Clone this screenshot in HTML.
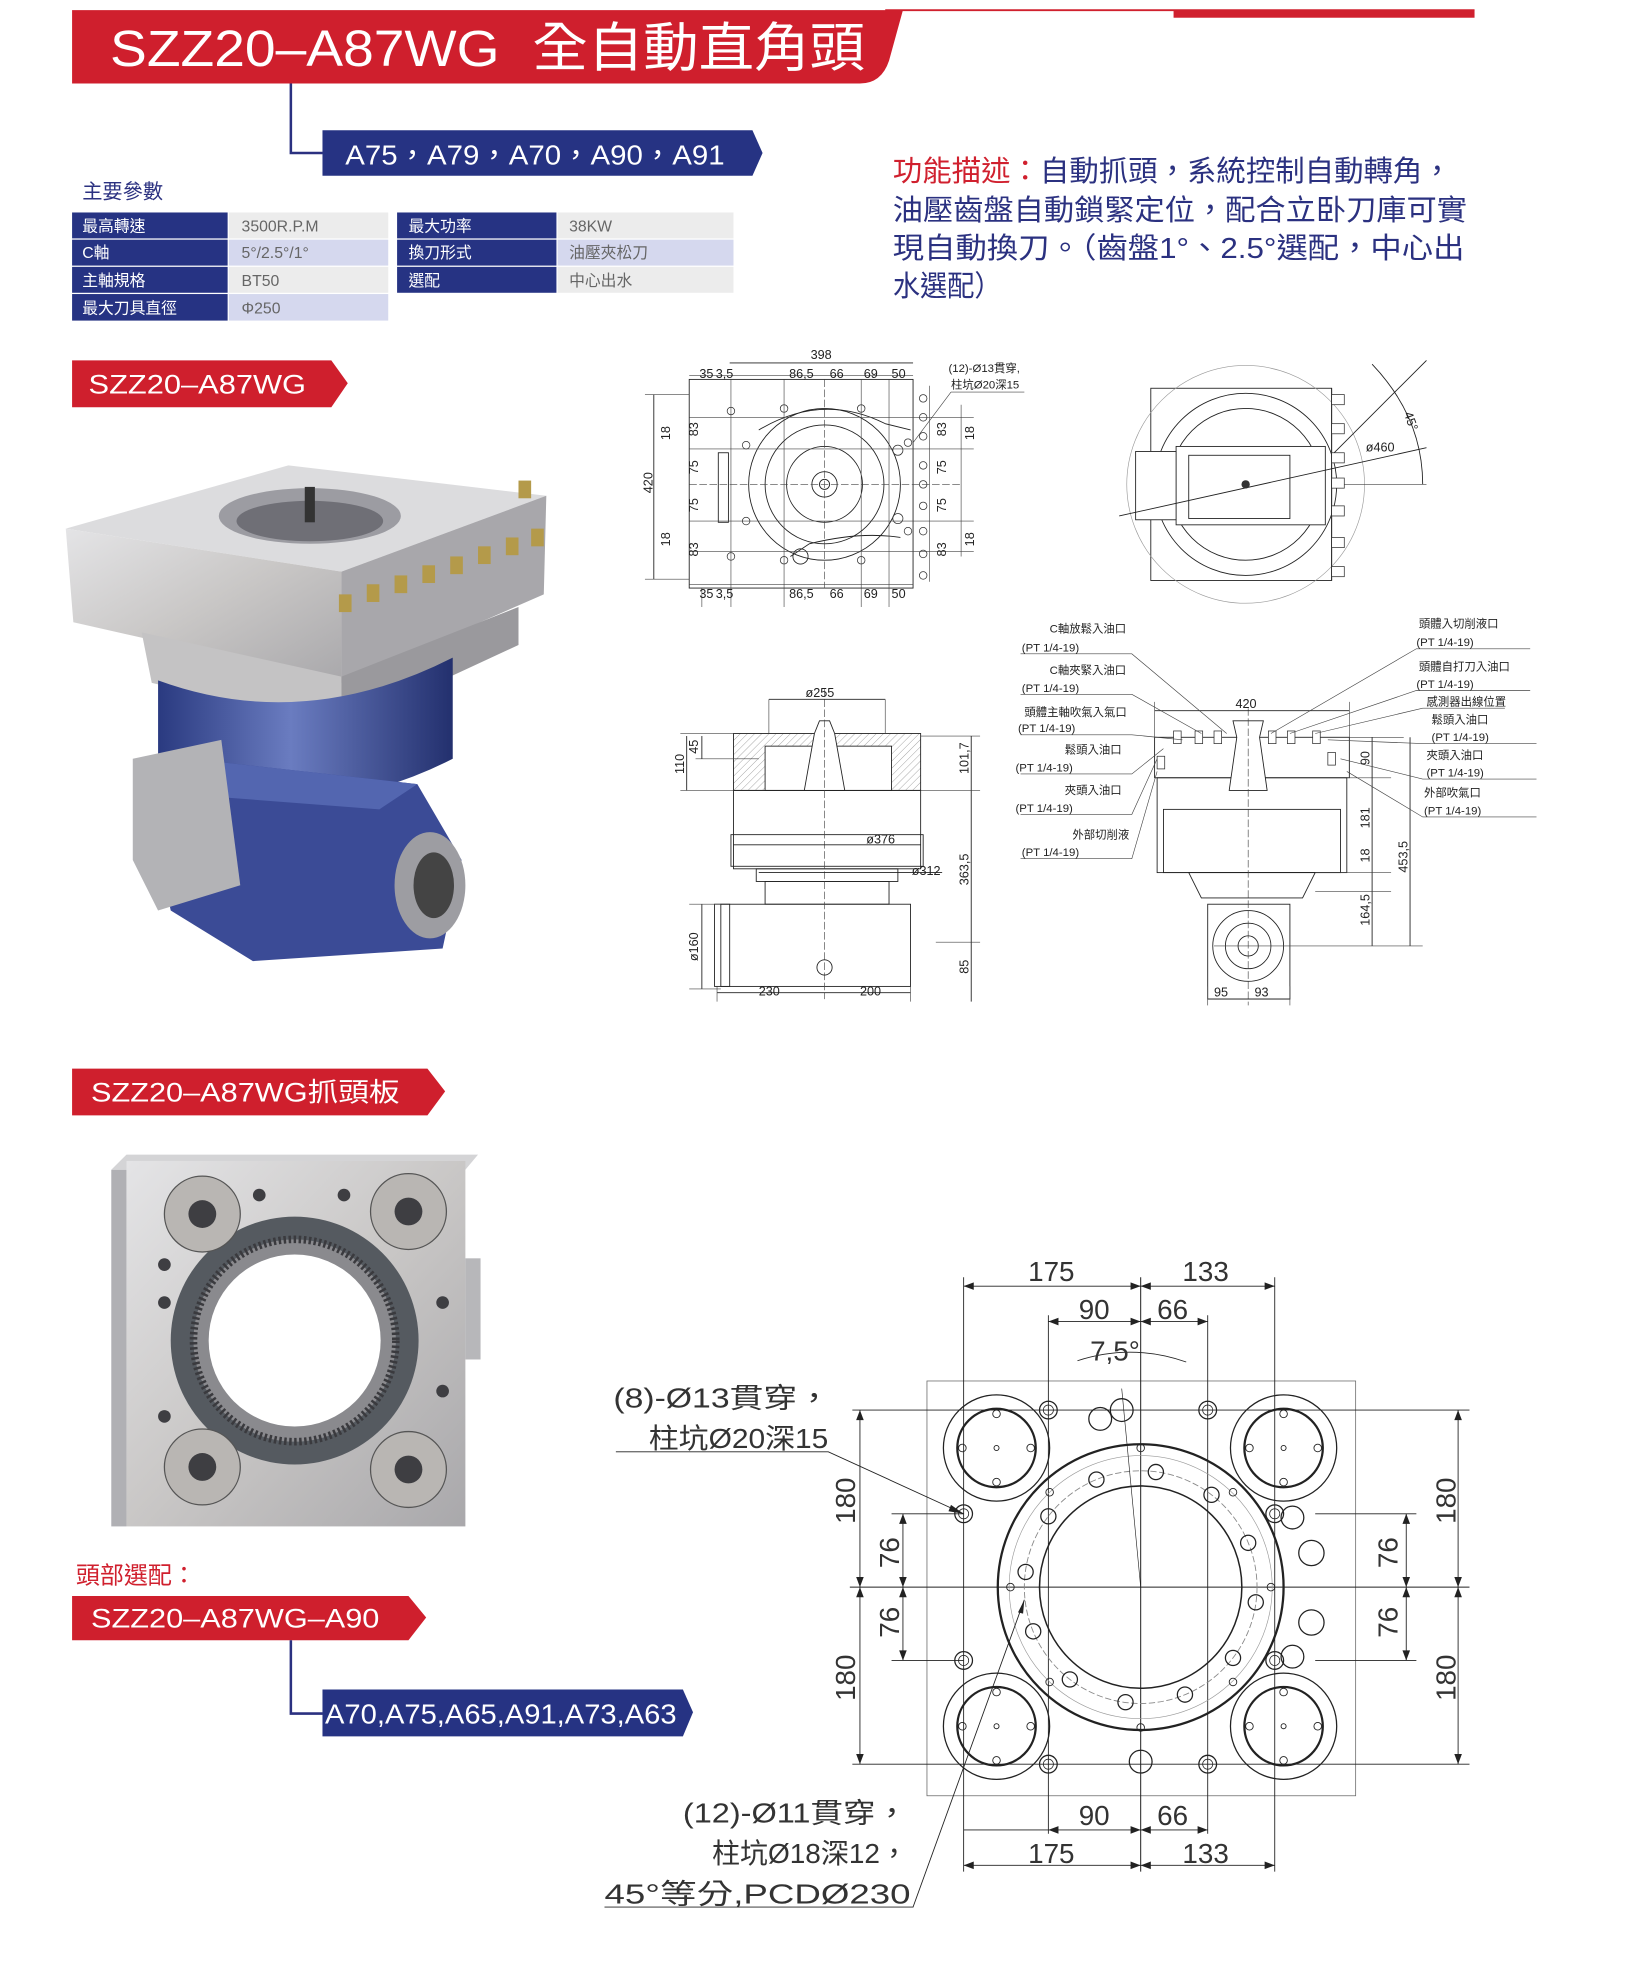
<!DOCTYPE html>
<html><head><meta charset="utf-8">
<style>
html,body{margin:0;padding:0;background:#fff;}
svg{display:block;}
text{font-family:"Liberation Sans","Noto Sans CJK TC",sans-serif;}
.d{stroke:#222;stroke-width:.7;fill:none}
.t{stroke:#444;stroke-width:.5;fill:none}
.dt{font-size:10px;fill:#222}
.lt{font-size:9px;fill:#222}
.bt{font-size:22px;fill:#333}
</style></head>
<body>
<svg width="1644" height="1976" viewBox="0 0 1300 1562.5" xmlns="http://www.w3.org/2000/svg">
<defs>
<linearGradient id="metal" x1="0" y1="0" x2="1" y2="1">
<stop offset="0" stop-color="#e4e4e6"/><stop offset=".5" stop-color="#c9c7c6"/><stop offset="1" stop-color="#a9a8ab"/></linearGradient>
<linearGradient id="blue" x1="0" y1="0" x2="1" y2="0">
<stop offset="0" stop-color="#2a3a80"/><stop offset=".45" stop-color="#6a7cc0"/><stop offset="1" stop-color="#23306e"/></linearGradient>
<pattern id="hatch" width="4" height="4" patternUnits="userSpaceOnUse" patternTransform="rotate(45)"><line x1="0" y1="0" x2="0" y2="4" stroke="#777" stroke-width=".5"/></pattern>
</defs>

<!-- header -->
<line x1="700" y1="8" x2="1166" y2="8" stroke="#d0202e" stroke-width="1.5"/>
<rect x="928" y="8" width="238" height="6" fill="#d0202e"/>
<path d="M57,8 H714 L703,48 Q697,66 680,66 H57 Z" fill="#cf1f2d"/>
<text x="87" y="52" font-size="40" fill="#fff" textLength="308" lengthAdjust="spacingAndGlyphs">SZZ20–A87WG</text>
<text x="421" y="52" font-size="42" fill="#fff" textLength="263" lengthAdjust="spacingAndGlyphs">全自動直角頭</text>
<path d="M230,66 V121 H255" stroke="#2b3180" stroke-width="2" fill="none"/>
<polygon points="255,103 595,103 603,121 595,139 255,139" fill="#263383"/>
<text x="273" y="130" font-size="22" fill="#fff" textLength="300" lengthAdjust="spacingAndGlyphs">A75，A79，A70，A90，A91</text>

<text x="65" y="157" font-size="16" fill="#2b3180">主要參數</text>
<g font-size="12.5">
<rect x="57" y="168" width="123" height="20.5" fill="#263383"/><rect x="181" y="168" width="126" height="20.5" fill="#ececec"/>
<rect x="57" y="189.5" width="123" height="20.5" fill="#263383"/><rect x="181" y="189.5" width="126" height="20.5" fill="#d5d8ee"/>
<rect x="57" y="211" width="123" height="20.5" fill="#263383"/><rect x="181" y="211" width="126" height="20.5" fill="#ececec"/>
<rect x="57" y="232.5" width="123" height="21" fill="#263383"/><rect x="181" y="232.5" width="126" height="21" fill="#d5d8ee"/>
<rect x="314" y="168" width="126" height="20.5" fill="#263383"/><rect x="441" y="168" width="139" height="20.5" fill="#ececec"/>
<rect x="314" y="189.5" width="126" height="20.5" fill="#263383"/><rect x="441" y="189.5" width="139" height="20.5" fill="#d5d8ee"/>
<rect x="314" y="211" width="126" height="20.5" fill="#263383"/><rect x="441" y="211" width="139" height="20.5" fill="#ececec"/>
<g fill="#fff">
<text x="65" y="183">最高轉速</text><text x="65" y="204">C軸</text><text x="65" y="226">主軸規格</text><text x="65" y="248">最大刀具直徑</text>
<text x="323" y="183">最大功率</text><text x="323" y="204">換刀形式</text><text x="323" y="226">選配</text></g>
<g fill="#666">
<text x="191" y="183">3500R.P.M</text><text x="191" y="204">5°/2.5°/1°</text><text x="191" y="226">BT50</text><text x="191" y="248">Φ250</text>
<text x="450" y="183">38KW</text><text x="450" y="204">油壓夾松刀</text><text x="450" y="226">中心出水</text></g>
</g>

<g font-size="23" fill="#2b3180">
<text x="706" y="143" textLength="442" lengthAdjust="spacingAndGlyphs"><tspan fill="#d0202e">功能描述：</tspan>自動抓頭，系統控制自動轉角，</text>
<text x="706" y="174" textLength="454" lengthAdjust="spacingAndGlyphs">油壓齒盤自動鎖緊定位，配合立卧刀庫可實</text>
<text x="706" y="204" textLength="452" lengthAdjust="spacingAndGlyphs">現自動換刀。（齒盤1°、2.5°選配，中心出</text>
<text x="706" y="234" textLength="86" lengthAdjust="spacingAndGlyphs">水選配）</text>
</g>

<!-- tab 1 -->
<polygon points="57,285 262,285 275,303 262,322 57,322" fill="#cf1f2d"/>
<text x="70" y="311" font-size="21" fill="#fff" textLength="172" lengthAdjust="spacingAndGlyphs">SZZ20–A87WG</text>

<!-- photo 1 -->
<g>
<polygon points="52,418 228,368 432,392 270,452" fill="#dcdcde"/>
<ellipse cx="245" cy="408" rx="72" ry="22" fill="#9c9ca2"/>
<ellipse cx="245" cy="412" rx="58" ry="16" fill="#6f6f76"/>
<rect x="241" y="385" width="8" height="28" fill="#333"/>
<polygon points="52,418 270,452 270,540 58,492" fill="url(#metal)"/>
<polygon points="270,452 432,392 430,470 270,540" fill="#a8a7ab"/>
<polygon points="112,500 270,535 270,575 120,540" fill="#c4c3c4"/>
<polygon points="270,535 410,480 410,510 270,575" fill="#9a999d"/>
<path d="M125,538 L125,610 Q240,660 358,600 L358,520 Q240,580 125,538Z" fill="url(#blue)"/>
<path d="M150,600 L330,620 L365,680 L350,750 L200,760 L135,720 L118,640Z" fill="#3b4b96"/>
<path d="M150,600 L330,620 L300,640 L170,630Z" fill="#5366b0"/>
<polygon points="105,600 175,585 190,700 125,720 105,680" fill="#b3b3b6"/>
<ellipse cx="340" cy="700" rx="28" ry="42" fill="#9d9da2"/>
<ellipse cx="343" cy="700" rx="16" ry="26" fill="#444"/>
<g fill="#b49a4a">
<rect x="268" y="470" width="10" height="14"/><rect x="290" y="462" width="10" height="14"/><rect x="312" y="455" width="10" height="14"/><rect x="334" y="447" width="10" height="14"/><rect x="356" y="440" width="10" height="14"/><rect x="378" y="432" width="10" height="14"/><rect x="400" y="425" width="10" height="14"/><rect x="420" y="418" width="10" height="14"/><rect x="410" y="380" width="10" height="14"/></g>
</g>

<!-- top-left drawing -->
<g class="d">
<rect x="545" y="300" width="177" height="165"/>
<line x1="545" y1="297" x2="722" y2="297" class="t"/>
<line x1="577" y1="287" x2="722" y2="287"/>
<line x1="517" y1="312" x2="517" y2="458"/>
<line x1="510" y1="312" x2="545" y2="312" class="t"/><line x1="510" y1="458" x2="545" y2="458" class="t"/>
<circle cx="652" cy="383" r="60"/><circle cx="652" cy="383" r="47"/><circle cx="652" cy="383" r="30"/><circle cx="652" cy="383" r="10"/><circle cx="652" cy="383" r="4"/>
<path d="M600,340 Q650,310 700,335 L720,340" />
<path d="M625,440 L640,430 Q680,420 712,425"/>
<circle cx="633" cy="440" r="6"/>
<rect x="568" y="358" width="8" height="55"/>
<line x1="545" y1="383" x2="760" y2="383" class="t" stroke-dasharray="6 2"/>
<line x1="652" y1="300" x2="652" y2="465" class="t" stroke-dasharray="6 2"/>
<line x1="545" y1="330" x2="770" y2="330" class="t"/><line x1="545" y1="436" x2="770" y2="436" class="t"/>
<line x1="545" y1="355" x2="770" y2="355" class="t"/><line x1="545" y1="412" x2="770" y2="412" class="t"/>
<line x1="555" y1="465" x2="555" y2="480" class="t"/><line x1="578" y1="300" x2="578" y2="480" class="t"/><line x1="620" y1="300" x2="620" y2="480" class="t"/><line x1="681" y1="300" x2="681" y2="480" class="t"/><line x1="703" y1="300" x2="703" y2="480" class="t"/>
<line x1="735" y1="305" x2="735" y2="460" class="t"/><line x1="760" y1="320" x2="760" y2="440" class="t"/>
<line x1="545" y1="462" x2="722" y2="462" class="t"/>
<line x1="722" y1="350" x2="752" y2="310" class="t"/><line x1="752" y1="310" x2="810" y2="310" class="t"/>
</g>
<g fill="none" stroke="#333" stroke-width=".6">
<circle cx="578" cy="325" r="3"/><circle cx="620" cy="323" r="3"/><circle cx="681" cy="323" r="3"/><circle cx="718" cy="350" r="3"/>
<circle cx="578" cy="440" r="3"/><circle cx="620" cy="443" r="3"/><circle cx="681" cy="443" r="3"/><circle cx="718" cy="420" r="3"/>
<circle cx="590" cy="352" r="3"/><circle cx="590" cy="412" r="3"/><circle cx="710" cy="356" r="4"/><circle cx="710" cy="410" r="4"/>
<circle cx="730" cy="315" r="3"/><circle cx="730" cy="330" r="3"/><circle cx="730" cy="345" r="3"/><circle cx="730" cy="368" r="3"/><circle cx="730" cy="383" r="3"/><circle cx="730" cy="400" r="3"/><circle cx="730" cy="420" r="3"/><circle cx="730" cy="438" r="3"/><circle cx="730" cy="455" r="3"/>
</g>
<g class="dt">
<text x="641" y="284">398</text><text x="553" y="299">35</text><text x="566" y="299">3,5</text><text x="624" y="299">86,5</text><text x="656" y="299">66</text><text x="683" y="299">69</text><text x="705" y="299">50</text>
<text x="553" y="473">35</text><text x="566" y="473">3,5</text><text x="624" y="473">86,5</text><text x="656" y="473">66</text><text x="683" y="473">69</text><text x="705" y="473">50</text>
<text x="750" y="294" font-size="9">(12)-Ø13貫穿,</text><text x="752" y="307" font-size="9">柱坑Ø20深15</text>
<text transform="translate(516,390) rotate(-90)">420</text>
<text transform="translate(530,348) rotate(-90)">18</text><text transform="translate(552,345) rotate(-90)">83</text><text transform="translate(552,375) rotate(-90)">75</text><text transform="translate(552,405) rotate(-90)">75</text><text transform="translate(552,440) rotate(-90)">83</text><text transform="translate(530,432) rotate(-90)">18</text>
<text transform="translate(748,345) rotate(-90)">83</text><text transform="translate(748,375) rotate(-90)">75</text><text transform="translate(748,405) rotate(-90)">75</text><text transform="translate(748,440) rotate(-90)">83</text><text transform="translate(770,348) rotate(-90)">18</text><text transform="translate(770,432) rotate(-90)">18</text>
</g>

<!-- top-right drawing -->
<g class="d">
<rect x="910" y="307" width="143" height="152"/>
<circle cx="985" cy="383" r="94" stroke="#999" stroke-width=".5"/>
<circle cx="985" cy="383" r="72"/><circle cx="985" cy="383" r="60"/>
<rect x="930" y="353" width="118" height="62" fill="#fff"/>
<rect x="940" y="360" width="80" height="50"/>
<rect x="898" y="357" width="32" height="54" fill="#fff"/>
<line x1="885" y1="408" x2="1128" y2="354"/>
<line x1="1053" y1="360" x2="1128" y2="285"/><line x1="1053" y1="383" x2="1128" y2="383" class="t"/>
<path d="M1085,288 Q1125,330 1125,383"/>
<line x1="1053" y1="307" x2="1053" y2="459"/>
</g>
<g fill="#fff" stroke="#333" stroke-width=".6">
<rect x="1053" y="312" width="10" height="8"/><rect x="1053" y="335" width="10" height="8"/><rect x="1053" y="358" width="10" height="8"/><rect x="1053" y="378" width="10" height="8"/><rect x="1053" y="400" width="10" height="8"/><rect x="1053" y="425" width="10" height="8"/><rect x="1053" y="448" width="10" height="8"/>
<circle cx="985" cy="383" r="3" fill="#333"/></g>
<g class="dt"><text x="1080" y="357">ø460</text><text transform="translate(1110,327) rotate(70)">45°</text></g>

<!-- bottom-left drawing -->
<g class="d">
<rect x="580" y="580" width="148" height="45" fill="url(#hatch)"/>
<rect x="605" y="590" width="100" height="35" fill="#fff"/>
<path d="M644,580 L648,570 L656,570 L660,580 L668,625 L636,625Z" fill="#fff"/>
<rect x="580" y="625" width="148" height="62"/>
<rect x="578" y="660" width="152" height="25"/>
<rect x="598" y="687" width="112" height="10"/>
<rect x="605" y="697" width="98" height="18"/>
<rect x="570" y="715" width="150" height="65"/>
<rect x="565" y="715" width="12" height="65"/>
<line x1="652" y1="545" x2="652" y2="790" class="t" stroke-dasharray="6 2"/>
<line x1="608" y1="553" x2="700" y2="553"/><line x1="608" y1="553" x2="608" y2="580" class="t"/><line x1="700" y1="553" x2="700" y2="580" class="t"/>
<line x1="538" y1="580" x2="580" y2="580" class="t"/><line x1="538" y1="625" x2="580" y2="625" class="t"/><line x1="550" y1="600" x2="600" y2="600" class="t"/>
<line x1="543" y1="582" x2="543" y2="625"/><line x1="555" y1="582" x2="555" y2="600"/>
<line x1="728" y1="582" x2="775" y2="582" class="t"/><line x1="768" y1="582" x2="768" y2="625"/><line x1="728" y1="625" x2="775" y2="625" class="t"/>
<line x1="768" y1="625" x2="768" y2="745"/><line x1="740" y1="745" x2="775" y2="745" class="t"/><line x1="768" y1="745" x2="768" y2="792"/>
<line x1="580" y1="668" x2="728" y2="668"/>
<line x1="600" y1="690" x2="745" y2="690"/>
<line x1="555" y1="715" x2="555" y2="782"/><line x1="545" y1="715" x2="570" y2="715" class="t"/><line x1="545" y1="782" x2="570" y2="782" class="t"/>
<line x1="567" y1="785" x2="720" y2="785"/><line x1="567" y1="780" x2="567" y2="792" class="t"/><line x1="720" y1="780" x2="720" y2="792" class="t"/>
<circle cx="652" cy="765" r="6"/>
</g>
<g class="dt">
<text x="637" y="551">ø255</text><text transform="translate(552,596) rotate(-90)">45</text><text transform="translate(541,612) rotate(-90)">110</text>
<text transform="translate(766,612) rotate(-90)">101,7</text><text x="685" y="667">ø376</text><text x="721" y="692">ø312</text>
<text transform="translate(766,700) rotate(-90)">363,5</text><text transform="translate(552,760) rotate(-90)">ø160</text><text transform="translate(766,770) rotate(-90)">85</text>
<text x="600" y="787">230</text><text x="680" y="787">200</text></g>

<!-- bottom-right drawing -->
<g class="d">
<rect x="913" y="583" width="154" height="32"/>
<rect x="915" y="615" width="150" height="75"/>
<rect x="920" y="640" width="140" height="50"/>
<path d="M940,690 L1040,690 L1030,710 L950,710Z"/>
<rect x="955" y="715" width="65" height="75"/>
<circle cx="987" cy="748" r="28"/><circle cx="987" cy="748" r="18"/><circle cx="987" cy="748" r="8"/>
<path d="M978,583 L975,570 L999,570 L996,583 L1002,625 L972,625Z" fill="#fff"/>
<line x1="987" y1="560" x2="987" y2="795" class="t" stroke-dasharray="6 2"/>
<line x1="913" y1="562" x2="1067" y2="562"/><line x1="913" y1="555" x2="913" y2="583" class="t"/><line x1="1067" y1="555" x2="1067" y2="583" class="t"/>
<line x1="1067" y1="583" x2="1110" y2="583" class="t"/><line x1="1067" y1="615" x2="1100" y2="615" class="t"/>
<line x1="1085" y1="583" x2="1085" y2="615"/><line x1="1085" y1="615" x2="1085" y2="690"/><line x1="1040" y1="690" x2="1100" y2="690" class="t"/>
<line x1="1085" y1="690" x2="1085" y2="705"/><line x1="1040" y1="705" x2="1100" y2="705" class="t"/>
<line x1="1085" y1="705" x2="1085" y2="748"/><line x1="1115" y1="583" x2="1115" y2="748"/><line x1="960" y1="748" x2="1125" y2="748" class="t"/>
<line x1="955" y1="790" x2="1020" y2="790"/><line x1="955" y1="780" x2="955" y2="795" class="t"/><line x1="1020" y1="780" x2="1020" y2="795" class="t"/>
</g>
<g fill="#fff" stroke="#333" stroke-width=".6">
<rect x="928" y="578" width="6" height="10"/><rect x="945" y="578" width="6" height="10"/><rect x="960" y="578" width="6" height="10"/><rect x="1003" y="578" width="6" height="10"/><rect x="1018" y="578" width="6" height="10"/><rect x="1038" y="578" width="6" height="10"/><rect x="1050" y="595" width="6" height="10"/><rect x="915" y="598" width="6" height="10"/>
</g>
<g class="t">
<path d="M807,517 H895 L970,580"/><path d="M807,549 H895 L950,580"/><path d="M807,581 H895 L935,585"/><path d="M807,612 H895 L920,592"/><path d="M807,644 H895 L915,600"/><path d="M807,679 H895 L915,610"/>
<path d="M1210,513 H1120 L1005,580"/><path d="M1210,546 H1120 L1020,580"/><path d="M1190,560 H1125 L1040,580"/><path d="M1215,588 H1125 L1050,585"/><path d="M1215,616 H1125 L1060,600"/><path d="M1215,646 H1125 L1065,610"/>
</g>
<g class="lt">
<text x="830" y="500">C軸放鬆入油口</text><text x="808" y="515">(PT 1/4-19)</text>
<text x="830" y="533">C軸夾緊入油口</text><text x="808" y="547">(PT 1/4-19)</text>
<text x="810" y="566">頭體主軸吹氣入氣口</text><text x="805" y="579">(PT 1/4-19)</text>
<text x="842" y="596">鬆頭入油口</text><text x="803" y="610">(PT 1/4-19)</text>
<text x="842" y="628">夾頭入油口</text><text x="803" y="642">(PT 1/4-19)</text>
<text x="848" y="663">外部切削液</text><text x="808" y="677">(PT 1/4-19)</text>
<text x="1122" y="496">頭體入切削液口</text><text x="1120" y="511">(PT 1/4-19)</text>
<text x="1122" y="530">頭體自打刀入油口</text><text x="1120" y="544">(PT 1/4-19)</text>
<text x="1128" y="558">感測器出線位置</text>
<text x="1132" y="572">鬆頭入油口</text><text x="1132" y="586">(PT 1/4-19)</text>
<text x="1128" y="600">夾頭入油口</text><text x="1128" y="614">(PT 1/4-19)</text>
<text x="1126" y="630">外部吹氣口</text><text x="1126" y="644">(PT 1/4-19)</text>
</g>
<g class="dt"><text x="977" y="560">420</text>
<text transform="translate(1083,605) rotate(-90)">90</text><text transform="translate(1083,655) rotate(-90)">181</text><text transform="translate(1083,682) rotate(-90)">18</text>
<text transform="translate(1113,690) rotate(-90)">453,5</text><text transform="translate(1083,732) rotate(-90)">164,5</text>
<text x="960" y="788">95</text><text x="992" y="788">93</text></g>

<!-- tab 2 -->
<polygon points="57,845 338,845 352,863 338,882 57,882" fill="#cf1f2d"/>
<text x="72" y="871" font-size="21" fill="#fff" textLength="244" lengthAdjust="spacingAndGlyphs">SZZ20–A87WG抓頭板</text>

<!-- plate photo -->
<g>
<polygon points="88,925 100,913 378,913 368,925" fill="#d4d4d6"/>
<rect x="88" y="925" width="12" height="282" fill="#b0b0b4"/>
<rect x="100" y="918" width="268" height="289" fill="url(#metal)"/>
<rect x="368" y="995" width="12" height="80" fill="#b7b7ba"/>
<circle cx="233" cy="1060" r="98" fill="#555a60"/>
<circle cx="233" cy="1060" r="80" fill="#8a8a8e" stroke="#3a3a3e" stroke-width="6" stroke-dasharray="2 2"/>
<circle cx="233" cy="1060" r="68" fill="#fff"/>
<g fill="#b9b6b3" stroke="#555" stroke-width="1"><circle cx="160" cy="960" r="30"/><circle cx="323" cy="958" r="30"/><circle cx="160" cy="1160" r="30"/><circle cx="323" cy="1162" r="30"/></g>
<g fill="#3e3e42"><circle cx="160" cy="960" r="11"/><circle cx="323" cy="958" r="11"/><circle cx="160" cy="1160" r="11"/><circle cx="323" cy="1162" r="11"/>
<circle cx="130" cy="1000" r="5"/><circle cx="130" cy="1030" r="5"/><circle cx="350" cy="1030" r="5"/><circle cx="350" cy="1100" r="5"/><circle cx="130" cy="1120" r="5"/><circle cx="205" cy="945" r="5"/><circle cx="272" cy="945" r="5"/></g>
</g>

<text x="60" y="1252" font-size="19" fill="#d0202e">頭部選配：</text>
<polygon points="57,1262 323,1262 337,1279 323,1297 57,1297" fill="#cf1f2d"/>
<text x="72" y="1287" font-size="21" fill="#fff" textLength="228" lengthAdjust="spacingAndGlyphs">SZZ20–A87WG–A90</text>
<path d="M230,1297 V1355 H255" stroke="#2b3180" stroke-width="2" fill="none"/>
<polygon points="255,1336 540,1336 548,1354 540,1373 255,1373" fill="#263383"/>
<text x="257" y="1363" font-size="22" fill="#fff" textLength="278" lengthAdjust="spacingAndGlyphs">A70,A75,A65,A91,A73,A63</text>

<!-- big drawing -->
<g class="d">
<rect x="733" y="1092" width="339" height="328" stroke="#666" stroke-width=".6"/>
<line x1="902" y1="1010" x2="902" y2="1480" stroke-width=".8"/>
<line x1="672" y1="1255" x2="1162" y2="1255" stroke-width=".8"/>
<!-- dims -->
<line x1="762" y1="1010" x2="762" y2="1480"/><line x1="1008" y1="1010" x2="1008" y2="1480"/>
<line x1="829" y1="1040" x2="829" y2="1450"/><line x1="955" y1="1040" x2="955" y2="1450"/>
<line x1="762" y1="1017" x2="1008" y2="1017"/><line x1="829" y1="1045" x2="955" y2="1045"/>
<line x1="762" y1="1447" x2="955" y2="1447" stroke-dasharray="0"/><line x1="762" y1="1475" x2="1008" y2="1475"/>
<path d="M852,1076 Q895,1062 938,1077"/>
<line x1="674" y1="1115" x2="1162" y2="1115"/><line x1="674" y1="1395" x2="1162" y2="1395"/>
<line x1="680" y1="1115" x2="680" y2="1395"/><line x1="1153" y1="1115" x2="1153" y2="1395"/>
<line x1="714" y1="1197" x2="714" y2="1313"/><line x1="1112" y1="1197" x2="1112" y2="1313"/>
<line x1="705" y1="1197" x2="762" y2="1197"/><line x1="705" y1="1313" x2="762" y2="1313"/>
<line x1="1040" y1="1197" x2="1120" y2="1197"/><line x1="1040" y1="1313" x2="1120" y2="1313"/>
<circle cx="902" cy="1255" r="113" stroke-width="1.8"/>
<circle cx="902" cy="1255" r="92" stroke="#888" stroke-dasharray="5 2"/>
<circle cx="902" cy="1255" r="80" stroke-width="1.2"/>
<circle cx="902" cy="1255" r="104" stroke="#999" stroke-width=".5"/>
<line x1="902" y1="1255" x2="887" y2="1098" stroke-width=".5"/>
<!-- leaders -->
<path d="M487,1148 H655 L762,1197"/>
<path d="M478,1508 H722 L810,1265"/>
</g>
<g fill="none" stroke="#222">
<g stroke-width="1"><circle cx="788" cy="1145" r="42"/><circle cx="1015" cy="1145" r="42"/><circle cx="788" cy="1365" r="42"/><circle cx="1015" cy="1365" r="42"/></g>
<g stroke-width="1.8"><circle cx="788" cy="1145" r="31"/><circle cx="1015" cy="1145" r="31"/><circle cx="788" cy="1365" r="31"/><circle cx="1015" cy="1365" r="31"/></g>
<g stroke-width=".7">
<circle cx="788" cy="1145" r="2"/><circle cx="1015" cy="1145" r="2"/><circle cx="788" cy="1365" r="2"/><circle cx="1015" cy="1365" r="2"/>
<circle cx="761" cy="1145" r="3"/><circle cx="815" cy="1145" r="3"/><circle cx="788" cy="1118" r="3"/><circle cx="788" cy="1172" r="3"/>
<circle cx="988" cy="1145" r="3"/><circle cx="1042" cy="1145" r="3"/><circle cx="1015" cy="1118" r="3"/><circle cx="1015" cy="1172" r="3"/>
<circle cx="761" cy="1365" r="3"/><circle cx="815" cy="1365" r="3"/><circle cx="788" cy="1338" r="3"/><circle cx="788" cy="1392" r="3"/>
<circle cx="988" cy="1365" r="3"/><circle cx="1042" cy="1365" r="3"/><circle cx="1015" cy="1338" r="3"/><circle cx="1015" cy="1392" r="3"/>
</g>
<g stroke-width="1"><circle cx="829" cy="1115" r="7"/><circle cx="955" cy="1115" r="7"/><circle cx="762" cy="1197" r="7"/><circle cx="1008" cy="1197" r="7"/><circle cx="762" cy="1313" r="7"/><circle cx="1008" cy="1313" r="7"/><circle cx="829" cy="1395" r="7"/><circle cx="955" cy="1395" r="7"/></g>
<g stroke-width=".6"><circle cx="829" cy="1115" r="4"/><circle cx="955" cy="1115" r="4"/><circle cx="762" cy="1197" r="4"/><circle cx="1008" cy="1197" r="4"/><circle cx="762" cy="1313" r="4"/><circle cx="1008" cy="1313" r="4"/><circle cx="829" cy="1395" r="4"/><circle cx="955" cy="1395" r="4"/></g>
<g stroke-width="1"><circle cx="870" cy="1122" r="9"/><circle cx="887" cy="1115" r="9"/><circle cx="902" cy="1393" r="9"/><circle cx="1022" cy="1200" r="9"/><circle cx="1037" cy="1228" r="10"/><circle cx="1037" cy="1283" r="10"/><circle cx="1022" cy="1310" r="9"/></g>
<g stroke-width="1">
<circle cx="914" cy="1164" r="6"/><circle cx="958" cy="1182" r="6"/><circle cx="987" cy="1220" r="6"/><circle cx="993" cy="1267" r="6"/><circle cx="975" cy="1311" r="6"/><circle cx="937" cy="1340" r="6"/><circle cx="890" cy="1346" r="6"/><circle cx="846" cy="1328" r="6"/><circle cx="817" cy="1290" r="6"/><circle cx="811" cy="1243" r="6"/><circle cx="829" cy="1199" r="6"/><circle cx="867" cy="1170" r="6"/>
</g>
<g stroke-width=".7">
<circle cx="902" cy="1145" r="3"/><circle cx="1005" cy="1255" r="3"/><circle cx="902" cy="1366" r="3"/><circle cx="799" cy="1255" r="3"/><circle cx="975" cy="1180" r="3"/><circle cx="975" cy="1330" r="3"/><circle cx="830" cy="1180" r="3"/><circle cx="830" cy="1330" r="3"/>
</g>
</g>
<g fill="#222">
<polygon points="762,1017 770,1014 770,1020"/><polygon points="1008,1017 1000,1014 1000,1020"/><polygon points="902,1017 894,1014 894,1020"/><polygon points="902,1017 910,1014 910,1020"/>
<polygon points="829,1045 837,1042 837,1048"/><polygon points="955,1045 947,1042 947,1048"/><polygon points="902,1045 894,1042 894,1048"/><polygon points="902,1045 910,1042 910,1048"/>
<polygon points="762,1475 770,1472 770,1478"/><polygon points="1008,1475 1000,1472 1000,1478"/><polygon points="902,1475 894,1472 894,1478"/><polygon points="902,1475 910,1472 910,1478"/>
<polygon points="829,1447 837,1444 837,1450"/><polygon points="955,1447 947,1444 947,1450"/><polygon points="902,1447 894,1444 894,1450"/><polygon points="902,1447 910,1444 910,1450"/>
<polygon points="680,1115 677,1123 683,1123"/><polygon points="680,1255 677,1247 683,1247"/><polygon points="680,1255 677,1263 683,1263"/><polygon points="680,1395 677,1387 683,1387"/>
<polygon points="1153,1115 1150,1123 1156,1123"/><polygon points="1153,1255 1150,1247 1156,1247"/><polygon points="1153,1255 1150,1263 1156,1263"/><polygon points="1153,1395 1150,1387 1156,1387"/>
<polygon points="714,1197 711,1205 717,1205"/><polygon points="714,1255 711,1247 717,1247"/><polygon points="714,1255 711,1263 717,1263"/><polygon points="714,1313 711,1305 717,1305"/>
<polygon points="1112,1197 1109,1205 1115,1205"/><polygon points="1112,1255 1109,1247 1115,1247"/><polygon points="1112,1255 1109,1263 1115,1263"/><polygon points="1112,1313 1109,1305 1115,1305"/>
<polygon points="762,1197 752,1190 750,1195"/><polygon points="810,1265 805,1275 809,1276"/>
</g>
<g class="bt">
<text x="813" y="1013">175</text><text x="935" y="1013">133</text>
<text x="853" y="1043">90</text><text x="915" y="1043">66</text>
<text x="862" y="1076">7,5°</text>
<text x="853" y="1443">90</text><text x="915" y="1443">66</text>
<text x="813" y="1473">175</text><text x="935" y="1473">133</text>
<text transform="translate(676,1205) rotate(-90)">180</text><text transform="translate(676,1345) rotate(-90)">180</text>
<text transform="translate(711,1240) rotate(-90)">76</text><text transform="translate(711,1295) rotate(-90)">76</text>
<text transform="translate(1151,1205) rotate(-90)">180</text><text transform="translate(1151,1345) rotate(-90)">180</text>
<text transform="translate(1105,1240) rotate(-90)">76</text><text transform="translate(1105,1295) rotate(-90)">76</text>
<text x="485" y="1113" textLength="172" lengthAdjust="spacingAndGlyphs">(8)-Ø13貫穿，</text>
<text x="513" y="1145" textLength="142" lengthAdjust="spacingAndGlyphs">柱坑Ø20深15</text>
<text x="540" y="1441" textLength="178" lengthAdjust="spacingAndGlyphs">(12)-Ø11貫穿，</text>
<text x="563" y="1473" textLength="155" lengthAdjust="spacingAndGlyphs">柱坑Ø18深12，</text>
<text x="478" y="1505" textLength="242" lengthAdjust="spacingAndGlyphs">45°等分,PCDØ230</text>
</g>
</svg>
</body></html>
